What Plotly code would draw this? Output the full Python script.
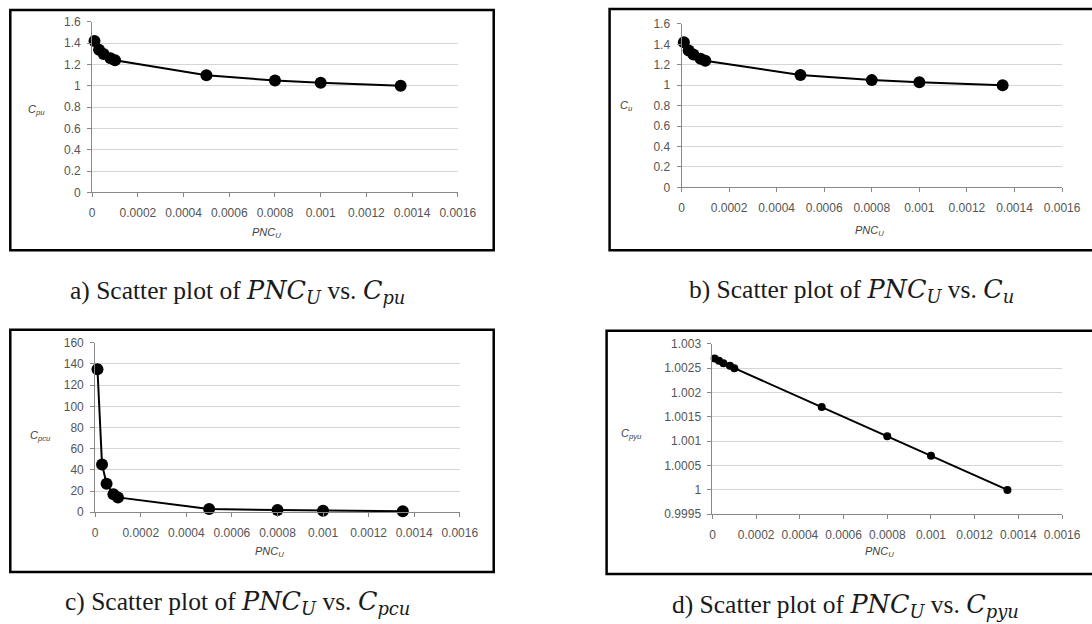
import plotly.graph_objects as go

W, H = 1092, 624

pnc_u = [0.00001, 0.00003, 0.00005, 0.00008, 0.0001, 0.0005, 0.0008, 0.001, 0.00135]
c_pu = [1.42, 1.34, 1.30, 1.26, 1.24, 1.10, 1.05, 1.03, 1.00]
c_u = [1.42, 1.34, 1.30, 1.26, 1.24, 1.10, 1.05, 1.03, 1.00]
c_pcu = [135, 45, 27, 17, 14, 3, 2, 1.5, 1]
c_pyu = [1.0027, 1.00265, 1.0026, 1.00255, 1.0025, 1.0017, 1.0011, 1.0007, 1.0]

x_ticks = [0, 0.0002, 0.0004, 0.0006, 0.0008, 0.001, 0.0012, 0.0014, 0.0016]
x_ticktext = ["0", "0.0002", "0.0004", "0.0006", "0.0008", "0.001", "0.0012", "0.0014", "0.0016"]
y_ticks_ab = [0, 0.2, 0.4, 0.6, 0.8, 1.0, 1.2, 1.4, 1.6]
y_ticktext_ab = ["0", "0.2", "0.4", "0.6", "0.8", "1", "1.2", "1.4", "1.6"]
y_ticks_c = [0, 20, 40, 60, 80, 100, 120, 140, 160]
y_ticktext_c = ["0", "20", "40", "60", "80", "100", "120", "140", "160"]
y_ticks_d = [0.9995, 1.0, 1.0005, 1.001, 1.0015, 1.002, 1.0025, 1.003]
y_ticktext_d = ["0.9995", "1", "1.0005", "1.001", "1.0015", "1.002", "1.0025", "1.003"]

y_labels = ["C<sub>pu</sub>", "C<sub>u</sub>", "C<sub>pcu</sub>", "C<sub>pyu</sub>"]
M = '<span style="font-family:DejaVu Serif"><i>'
ME = '</i></span>'
captions = [
    "a) Scatter plot of " + M + "PNC<sub>U</sub>" + ME + " vs. " + M + "C<sub>pu</sub>" + ME,
    "b) Scatter plot of " + M + "PNC<sub>U</sub>" + ME + " vs. " + M + "C<sub>u</sub>" + ME,
    "c) Scatter plot of " + M + "PNC<sub>U</sub>" + ME + " vs. " + M + "C<sub>pcu</sub>" + ME,
    "d) Scatter plot of " + M + "PNC<sub>U</sub>" + ME + " vs. " + M + "C<sub>pyu</sub>" + ME,
]

# target page-pixel layout: (x0, x1, ytop, ybottom) of plot areas
areas = [(92, 458, 19, 190), (682, 1063, 21, 185), (95, 460, 341, 511), (713, 1063, 342, 513)]
boxes = [(10, 494, 7, 248), (610, 1120, 6, 248), (10, 494, 328, 571), (607, 1120, 329, 573)]
caption_pos = [(237, 290), (852, 288), (237, 602), (846, 605)]
ylabel_pos = [(36, 107), (627, 103), (40, 435), (632, 433)]
xtitle_pos = [(267, 231), (870, 229), (270, 551), (880, 551)]

series = [c_pu, c_u, c_pcu, c_pyu]
yranges = [[0, 1.6], [0, 1.6], [0, 160], [0.9995, 1.003]]
yticks = [(y_ticks_ab, y_ticktext_ab), (y_ticks_ab, y_ticktext_ab), (y_ticks_c, y_ticktext_c), (y_ticks_d, y_ticktext_d)]
msizes = [12, 12, 12, 8]

S = 0.981
px = lambda v: ((v - 2.7) / S) / W
py = lambda v: 1 - ((v - 4.0) / S) / H

tickfont = dict(family="Liberation Sans", size=12, color="#555555")

fig = go.Figure()
layout = {}
annotations = []
shapes = []
for i in range(4):
    n = "" if i == 0 else str(i + 1)
    x0, x1, yt, yb = areas[i]
    fig.add_trace(go.Scatter(
        x=pnc_u, y=series[i], mode="lines+markers",
        line=dict(color="black", width=2),
        marker=dict(color="black", size=msizes[i]),
        xaxis="x" + n, yaxis="y" + n, showlegend=False, cliponaxis=False))
    layout["xaxis" + n] = dict(
        domain=[px(x0), px(x1)], anchor="y" + n, range=[0, 0.0016],
        tickvals=x_ticks, ticktext=x_ticktext, showgrid=False, zeroline=False,
        showline=True, linecolor="#888888", linewidth=1, ticks="outside",
        ticklen=4, tickcolor="#888888", tickfont=tickfont, ticklabelstandoff=5)
    layout["yaxis" + n] = dict(
        domain=[py(yb), py(yt)], anchor="x" + n, range=yranges[i],
        tickvals=yticks[i][0], ticktext=yticks[i][1], showgrid=True,
        gridcolor="#d6d6d6", gridwidth=1, zeroline=False,
        showline=True, linecolor="#888888", linewidth=1, ticks="outside",
        ticklen=4, tickcolor="#888888", tickfont=tickfont, ticklabelstandoff=4)
    tx, ty = xtitle_pos[i]
    annotations.append(dict(
        x=px(tx), y=py(ty), xref="paper", yref="paper", xanchor="center", yanchor="middle",
        text="<i>PNC<sub>U</sub></i>", showarrow=False,
        font=dict(family="Liberation Sans", size=11, color="#404040")))
    lx, ly = ylabel_pos[i]
    annotations.append(dict(
        x=px(lx), y=py(ly), xref="paper", yref="paper", xanchor="center", yanchor="middle",
        text="<i>" + y_labels[i] + "</i>", showarrow=False,
        font=dict(family="Liberation Sans", size=11, color="#404040")))
    cx, cy = caption_pos[i]
    annotations.append(dict(
        x=px(cx), y=py(cy), xref="paper", yref="paper", xanchor="center", yanchor="middle",
        text=captions[i], showarrow=False,
        font=dict(family="Liberation Serif", size=25.5, color="#1a1a1a")))
    bx0, bx1, by0, by1 = boxes[i]
    shapes.append(dict(type="rect", xref="paper", yref="paper",
                       x0=px(bx0), x1=px(bx1), y0=py(by1), y1=py(by0),
                       line=dict(color="black", width=2.5)))

fig.update_layout(
    width=W, height=H, margin=dict(l=0, r=0, t=0, b=0),
    paper_bgcolor="white", plot_bgcolor="white",
    annotations=annotations, shapes=shapes, **layout)

fig.write_html(
    "out.html",
    config={"displayModeBar": False},
    post_script="document.body.style.margin='0';document.body.style.overflow='hidden';",
)
